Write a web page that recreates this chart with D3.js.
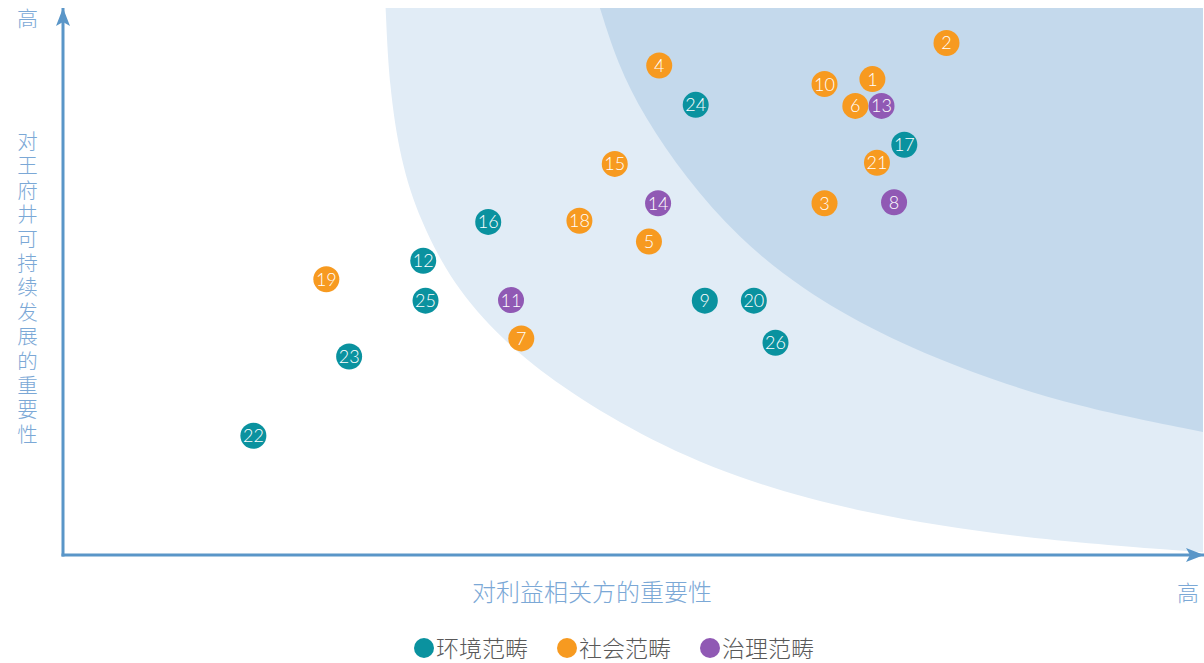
<!DOCTYPE html>
<html>
<head>
  <meta charset="utf-8">
  <title>materiality matrix</title>
  <script src="https://d3js.org/d3.v7.min.js"></script>
  <style>
    body { margin: 0; background: #fff; }
    svg { display: block; }
    .lbl { font-family: "Noto Sans CJK SC", sans-serif; font-weight: 300; fill: #7ba8d6; }
    .num { font-family: Lato, "Open Sans", sans-serif; font-weight: 300; fill: #fff; }
    .leg { font-family: "Noto Sans CJK SC", sans-serif; font-weight: 300; fill: #595959; }
  </style>
</head>
<body>
<script>
// topic ids, category, and position on both importance axes (0-100)
var ids = [1,2,3,4,5,6,7,8,9,10,11,12,13,14,15,16,17,18,19,20,21,22,23,24,25,26];
var cats = ["社会","社会","社会","社会","社会","社会","社会","治理","环境","社会","治理","环境","治理",
            "治理","社会","环境","环境","社会","社会","环境","社会","环境","环境","环境","环境","环境"];
var xVals = [71.0,77.5,66.8,52.3,51.4,69.5,40.2,72.9,56.3,66.8,39.3,31.6,71.8,
             52.2,48.4,37.3,73.8,45.3,23.1,60.6,71.4,16.7,25.1,55.5,31.8,62.5];
var yVals = [87.0,93.6,64.3,89.5,57.3,82.1,39.6,64.5,46.5,86.1,46.6,53.8,82.1,
             64.3,71.5,60.9,75.0,61.1,50.4,46.5,71.7,21.8,36.3,82.3,46.5,38.8];

// legend
var legendKeys = ["环境", "社会", "治理"];
var legendNames = ["环境范畴", "社会范畴", "治理范畴"];

// zone boundaries (same 0-100 units)
var outerZone = [[28.3,100],[28.6,86],[29.6,72],[31.3,61.2],[34.2,49.5],[38.4,39.5],[43.6,30.8],
                 [50.5,22.0],[59.0,14.0],[70.0,7.6],[84.0,3.0],[100,0.5]];
var innerZone = [[47.1,100],[48.6,90],[51.0,80],[54.6,69],[59.2,58],[64.8,48.6],
                 [71.5,40.5],[79.5,33.4],[89.0,27.0],[100,22.5]];

var yTitle = "对王府井可持续发展的重要性";
var xTitle = "对利益相关方的重要性";

var W = 1204, H = 663;
var svg = d3.select("body").append("svg").attr("width", W).attr("height", H);

var x = d3.scaleLinear().domain([0, 100]).range([63, 1203]);
var y = d3.scaleLinear().domain([0, 100]).range([555, 8]);
var color = d3.scaleOrdinal().domain(legendKeys).range(["#0a929f", "#f79a20", "#9059b4"]);

// shaded zones
var curve = d3.line().x(function(d) { return x(d[0]); }).y(function(d) { return y(d[1]); })
  .curve(d3.curveBasis);
function zonePath(pts) {
  return curve(pts) + "L" + x(100) + "," + y(100) + "Z";
}
svg.append("path").attr("d", zonePath(outerZone)).attr("fill", "#e1ecf6");
svg.append("path").attr("d", zonePath(innerZone)).attr("fill", "#c4d9ec");

// axes with arrows
var defs = svg.append("defs");
defs.append("marker")
  .attr("id", "arrow")
  .attr("viewBox", "0 0 18 14")
  .attr("refX", 18).attr("refY", 7)
  .attr("markerWidth", 18).attr("markerHeight", 14)
  .attr("markerUnits", "userSpaceOnUse")
  .attr("orient", "auto")
  .append("path").attr("d", "M0,0L18,7L0,14L4,7Z").attr("fill", "#5a96c8");

svg.append("line")
  .attr("x1", x(0)).attr("y1", y(0) + 1.5).attr("x2", x(0)).attr("y2", y(100))
  .attr("stroke", "#5a96c8").attr("stroke-width", 3).attr("marker-end", "url(#arrow)");
svg.append("line")
  .attr("x1", x(0) - 1.5).attr("y1", y(0)).attr("x2", W).attr("y2", y(0))
  .attr("stroke", "#5a96c8").attr("stroke-width", 3).attr("marker-end", "url(#arrow)");

// axis titles
svg.append("text").attr("class", "lbl").attr("x", 27.5).attr("y", 26)
  .attr("text-anchor", "middle").style("font-size", "21px").text("高");
svg.append("text").attr("class", "lbl")
  .attr("x", 27.5).attr("y", 131)
  .style("writing-mode", "vertical-rl")
  .style("font-size", "20.5px").style("letter-spacing", "3.9px")
  .text(yTitle);
svg.append("text").attr("class", "lbl").attr("x", 592).attr("y", 601)
  .attr("text-anchor", "middle").style("font-size", "24px").text(xTitle);
svg.append("text").attr("class", "lbl").attr("x", 1188).attr("y", 601)
  .attr("text-anchor", "middle").style("font-size", "22px").text("高");

// points
var data = ids.map(function(id, i) { return { id: id, cat: cats[i], x: xVals[i], y: yVals[i] }; });
var pts = svg.append("g").selectAll("g").data(data).enter().append("g")
  .attr("transform", function(d) { return "translate(" + x(d.x) + "," + y(d.y) + ")"; });
pts.append("circle").attr("r", 13).attr("fill", function(d) { return color(d.cat); });
pts.append("text").attr("class", "num").attr("text-anchor", "middle").attr("dy", "0.36em")
  .style("font-size", "18px").text(function(d) { return d.id; });

// legend
var legX = [424, 567, 710];
var leg = svg.append("g").selectAll("g").data(legendKeys).enter().append("g")
  .attr("transform", function(d, i) { return "translate(" + legX[i] + ",648)"; });
leg.append("circle").attr("r", 10).attr("fill", function(d) { return color(d); });
leg.append("text").attr("class", "leg").attr("x", 12).attr("y", 8.5)
  .style("font-size", "23px").text(function(d, i) { return legendNames[i]; });
</script>
</body>
</html>
